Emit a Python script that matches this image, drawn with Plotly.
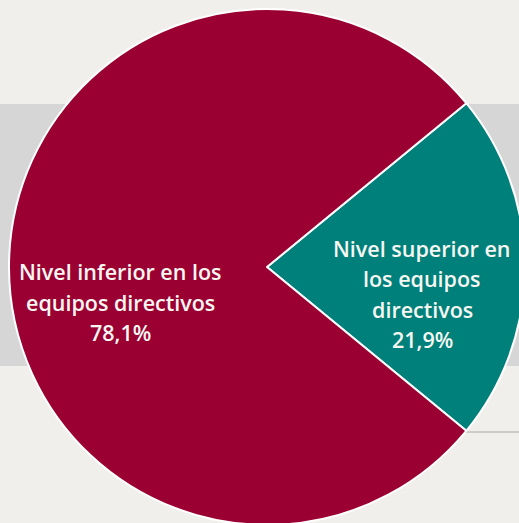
import plotly.graph_objects as go

# Share of management-team positions by level
categories = ["Nivel superior en los equipos directivos",
              "Nivel inferior en los equipos directivos"]
label_lines = [["Nivel superior en", "los equipos", "directivos"],
               ["Nivel inferior en los", "equipos directivos"]]
values = [21.9, 78.1]
colors = ["#00807B", "#9B0033"]

W = H = 525  # figure a bit wider than the viewport so the pie runs off the right edge
R = 258      # pie radius in px
CX, CY = 267, 267

fig = go.Figure()
fig.add_trace(go.Pie(
    labels=categories,
    values=values,
    sort=False,
    direction="clockwise",
    rotation=90 - values[0] / 100 * 360 / 2,
    marker=dict(colors=colors, line=dict(color="white", width=2)),
    textinfo="none",
    hoverinfo="label+percent",
    showlegend=False,
    domain=dict(x=[(CX - R) / W, (CX + R) / W], y=[1 - (CY + R) / H, 1 - (CY - R) / H]),
))

# grey band running behind the pie
fig.add_shape(type="rect", xref="paper", yref="paper", x0=0, x1=1,
              y0=1 - 366 / H, y1=1 - 104 / H, fillcolor="#D6D6D6",
              line_width=0, layer="below")
fig.add_shape(type="line", xref="paper", yref="paper", x0=466 / W, x1=1,
              y0=1 - 432 / H, y1=1 - 432 / H, line=dict(color="#A9A9A9", width=1),
              layer="below")

# slice labels, one annotation per line with a fixed pitch
pitch = 30.5
centers = {0: (422, 294), 1: (120, 302)}
for i, lines in enumerate(label_lines):
    txt = lines + [f"{values[i]:.1f}%".replace(".", ",")]
    cx, cy = centers[i]
    n = len(txt)
    for k, t in enumerate(txt):
        y = cy + (k - (n - 1) / 2) * pitch
        fig.add_annotation(text=t, x=cx / W, y=1 - y / H, xref="paper", yref="paper",
                           showarrow=False, xanchor="center", yanchor="middle",
                           font=dict(family="Open Sans", size=21.5, color="#F7F7F2", weight=600))

fig.update_layout(width=W, height=H, margin=dict(l=0, r=0, t=0, b=0),
                  paper_bgcolor="#F0EFEC", plot_bgcolor="#F0EFEC")

fig.write_html("out.html", post_script=(
    "document.documentElement.style.overflow='hidden';"
    "document.body.style.overflow='hidden';document.body.style.margin='0';"))
